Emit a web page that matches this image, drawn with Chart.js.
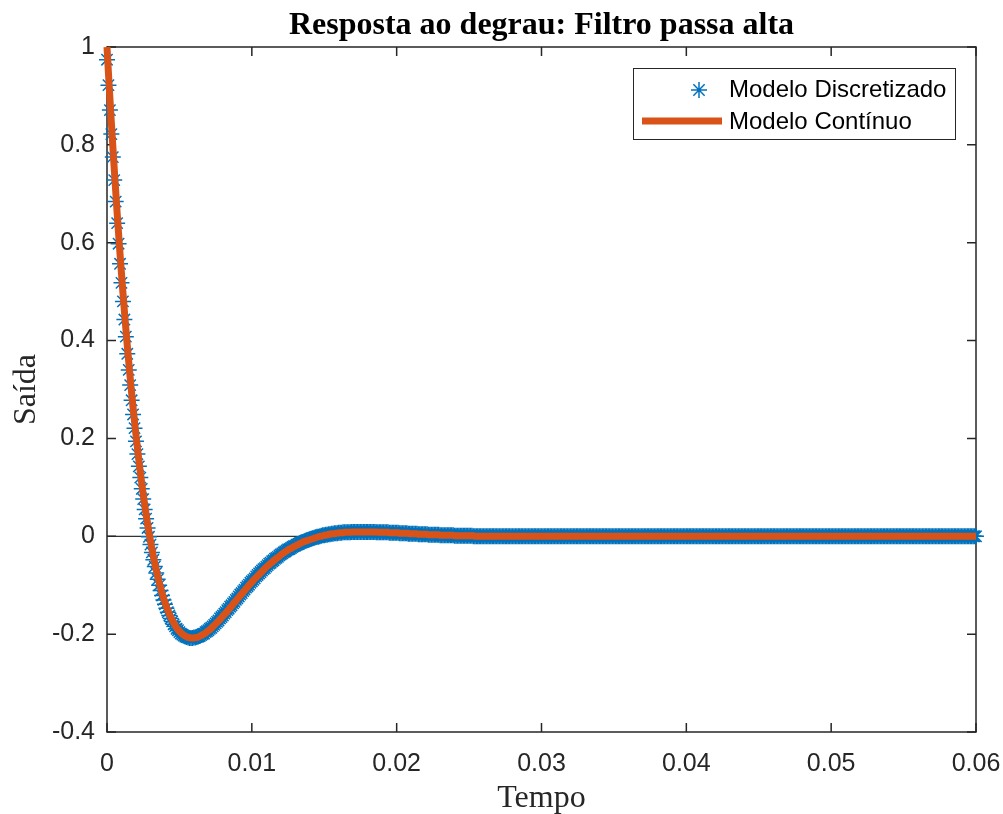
<!DOCTYPE html>
<html>
<head>
<meta charset="utf-8">
<script src="https://cdn.jsdelivr.net/npm/chart.js@4.4.1/dist/chart.umd.min.js"></script>
<style>
  html, body { margin: 0; padding: 0; background: #ffffff; }
  canvas { display: block; }
</style>
</head>
<body>
<canvas id="grafico" width="1003" height="814"></canvas>
<script>
// Step response of a 2nd-order high-pass filter: continuous model vs. Tustin-discretized model
const tituloGrafico = 'Resposta ao degrau: Filtro passa alta';
const rotuloX = 'Tempo';
const rotuloY = 'Saída';
const nomesSeries = ['Modelo Discretizado', 'Modelo Contínuo'];

// sample period of both series (s)
const periodoAmostragem = 1e-4;

const xTicks = [0, 0.01, 0.02, 0.03, 0.04, 0.05, 0.06];
const xTickLabels = ['0', '0.01', '0.02', '0.03', '0.04', '0.05', '0.06'];
const yTicks = [-0.4, -0.2, 0, 0.2, 0.4, 0.6, 0.8, 1];
const yTickLabels = ['-0.4', '-0.2', '0', '0.2', '0.4', '0.6', '0.8', '1'];

// discretized model output, one value per sample (k = 0 .. 600)
const yDiscreto = [
  0.974, 0.922, 0.871, 0.822, 0.775, 0.728, 0.684, 0.640, 0.598, 0.557,
  0.518, 0.480, 0.443, 0.408, 0.373, 0.340, 0.309, 0.278, 0.249, 0.221,
  0.194, 0.168, 0.143, 0.120, 0.097, 0.076, 0.055, 0.036, 0.017, -0.001,
  -0.017, -0.033, -0.048, -0.062, -0.075, -0.088, -0.100, -0.111, -0.121, -0.130,
  -0.139, -0.147, -0.155, -0.162, -0.168, -0.174, -0.180, -0.184, -0.189, -0.192,
  -0.196, -0.199, -0.201, -0.203, -0.205, -0.206, -0.207, -0.208, -0.208, -0.208,
  -0.207, -0.207, -0.206, -0.205, -0.204, -0.202, -0.200, -0.199, -0.196, -0.194,
  -0.192, -0.189, -0.187, -0.184, -0.181, -0.178, -0.175, -0.172, -0.168, -0.165,
  -0.162, -0.158, -0.155, -0.151, -0.148, -0.144, -0.141, -0.137, -0.134, -0.130,
  -0.127, -0.123, -0.119, -0.116, -0.112, -0.109, -0.105, -0.102, -0.099, -0.095,
  -0.092, -0.089, -0.086, -0.082, -0.079, -0.076, -0.073, -0.070, -0.067, -0.065,
  -0.062, -0.059, -0.056, -0.054, -0.051, -0.049, -0.046, -0.044, -0.042, -0.039,
  -0.037, -0.035, -0.033, -0.031, -0.029, -0.027, -0.026, -0.024, -0.022, -0.020,
  -0.019, -0.017, -0.016, -0.014, -0.013, -0.012, -0.011, -0.009, -0.008, -0.007,
  -0.006, -0.005, -0.004, -0.003, -0.002, -0.001, -0.001, 0, 0.001, 0.002,
  0.002, 0.003, 0.003, 0.004, 0.004, 0.005, 0.005, 0.006, 0.006, 0.006,
  0.007, 0.007, 0.007, 0.008, 0.008, 0.008, 0.008, 0.008, 0.008, 0.009,
  0.009, 0.009, 0.009, 0.009, 0.009, 0.009, 0.009, 0.009, 0.009, 0.009,
  0.009, 0.009, 0.009, 0.009, 0.009, 0.009, 0.008, 0.008, 0.008, 0.008,
  0.008, 0.008, 0.008, 0.008, 0.008, 0.007, 0.007, 0.007, 0.007, 0.007,
  0.007, 0.007, 0.006, 0.006, 0.006, 0.006, 0.006, 0.006, 0.005, 0.005,
  0.005, 0.005, 0.005, 0.005, 0.005, 0.004, 0.004, 0.004, 0.004, 0.004,
  0.004, 0.004, 0.003, 0.003, 0.003, 0.003, 0.003, 0.003, 0.003, 0.003,
  0.002, 0.002, 0.002, 0.002, 0.002, 0.002, 0.002, 0.002, 0.002, 0.002,
  0.001, 0.001, 0.001, 0.001, 0.001, 0.001, 0.001, 0.001, 0.001, 0.001,
  0.001, 0.001, 0.001, 0, 0, 0, 0, 0, 0, 0,
  0,0,0,0,0,0,0,0,0,0, 0,0,0,0,0,0,0,0,0,0,
  0,0,0,0,0,0,0,0,0,0, 0,0,0,0,0,0,0,0,0,0,
  0,0,0,0,0,0,0,0,0,0, 0,0,0,0,0,0,0,0,0,0,
  0,0,0,0,0,0,0,0,0,0, 0,0,0,0,0,0,0,0,0,0,
  0,0,0,0,0,0,0,0,0,0, 0,0,0,0,0,0,0,0,0,0,
  0,0,0,0,0,0,0,0,0,0, 0,0,0,0,0,0,0,0,0,0,
  0,0,0,0,0,0,0,0,0,0, 0,0,0,0,0,0,0,0,0,0,
  0,0,0,0,0,0,0,0,0,0, 0,0,0,0,0,0,0,0,0,0,
  0,0,0,0,0,0,0,0,0,0, 0,0,0,0,0,0,0,0,0,0,
  0,0,0,0,0,0,0,0,0,0, 0,0,0,0,0,0,0,0,0,0,
  0,0,0,0,0,0,0,0,0,0, 0,0,0,0,0,0,0,0,0,0,
  0,0,0,0,0,0,0,0,0,0, 0,0,0,0,0,0,0,0,0,0,
  0,0,0,0,0,0,0,0,0,0, 0,0,0,0,0,0,0,0,0,0,
  0,0,0,0,0,0,0,0,0,0, 0,0,0,0,0,0,0,0,0,0,
  0,0,0,0,0,0,0,0,0,0, 0,0,0,0,0,0,0,0,0,0,
  0,0,0,0,0,0,0,0,0,0, 0,0,0,0,0,0,0,0,0,0,
  0,0,0,0,0,0,0,0,0,0, 0,0,0,0,0,0,0,0,0,0,
  0
];

// continuous model output on the same time grid (k = 0 .. 600)
const yContinuo = [
  1.000, 0.947, 0.896, 0.846, 0.798, 0.751, 0.706, 0.661, 0.619, 0.577,
  0.537, 0.498, 0.461, 0.425, 0.390, 0.357, 0.324, 0.293, 0.263, 0.235,
  0.207, 0.181, 0.155, 0.131, 0.108, 0.086, 0.065, 0.045, 0.026, 0.008,
  -0.009, -0.025, -0.041, -0.055, -0.069, -0.082, -0.094, -0.105, -0.116, -0.126,
  -0.135, -0.144, -0.151, -0.159, -0.165, -0.171, -0.177, -0.182, -0.187, -0.191,
  -0.194, -0.197, -0.200, -0.202, -0.204, -0.205, -0.207, -0.207, -0.208, -0.208,
  -0.208, -0.207, -0.207, -0.206, -0.204, -0.203, -0.201, -0.200, -0.198, -0.195,
  -0.193, -0.191, -0.188, -0.185, -0.182, -0.179, -0.176, -0.173, -0.170, -0.167,
  -0.163, -0.160, -0.157, -0.153, -0.150, -0.146, -0.143, -0.139, -0.135, -0.132,
  -0.128, -0.125, -0.121, -0.118, -0.114, -0.111, -0.107, -0.104, -0.100, -0.097,
  -0.094, -0.090, -0.087, -0.084, -0.081, -0.078, -0.075, -0.072, -0.069, -0.066,
  -0.063, -0.060, -0.058, -0.055, -0.053, -0.050, -0.048, -0.045, -0.043, -0.041,
  -0.038, -0.036, -0.034, -0.032, -0.030, -0.028, -0.026, -0.025, -0.023, -0.021,
  -0.020, -0.018, -0.017, -0.015, -0.014, -0.012, -0.011, -0.010, -0.009, -0.008,
  -0.007, -0.006, -0.005, -0.004, -0.003, -0.002, -0.001, 0, 0, 0.001,
  0.002, 0.002, 0.003, 0.004, 0.004, 0.005, 0.005, 0.005, 0.006, 0.006,
  0.007, 0.007, 0.007, 0.007, 0.008, 0.008, 0.008, 0.008, 0.008, 0.009,
  0.009, 0.009, 0.009, 0.009, 0.009, 0.009, 0.009, 0.009, 0.009, 0.009,
  0.009, 0.009, 0.009, 0.009, 0.009, 0.009, 0.009, 0.008, 0.008, 0.008,
  0.008, 0.008, 0.008, 0.008, 0.008, 0.007, 0.007, 0.007, 0.007, 0.007,
  0.007, 0.007, 0.006, 0.006, 0.006, 0.006, 0.006, 0.006, 0.006, 0.005,
  0.005, 0.005, 0.005, 0.005, 0.005, 0.004, 0.004, 0.004, 0.004, 0.004,
  0.004, 0.004, 0.003, 0.003, 0.003, 0.003, 0.003, 0.003, 0.003, 0.003,
  0.002, 0.002, 0.002, 0.002, 0.002, 0.002, 0.002, 0.002, 0.002, 0.002,
  0.001, 0.001, 0.001, 0.001, 0.001, 0.001, 0.001, 0.001, 0.001, 0.001,
  0.001, 0.001, 0.001, 0.001, 0, 0, 0, 0, 0, 0,
  0,0,0,0,0,0,0,0,0,0, 0,0,0,0,0,0,0,0,0,0,
  0,0,0,0,0,0,0,0,0,0, 0,0,0,0,0,0,0,0,0,0,
  0,0,0,0,0,0,0,0,0,0, 0,0,0,0,0,0,0,0,0,0,
  0,0,0,0,0,0,0,0,0,0, 0,0,0,0,0,0,0,0,0,0,
  0,0,0,0,0,0,0,0,0,0, 0,0,0,0,0,0,0,0,0,0,
  0,0,0,0,0,0,0,0,0,0, 0,0,0,0,0,0,0,0,0,0,
  0,0,0,0,0,0,0,0,0,0, 0,0,0,0,0,0,0,0,0,0,
  0,0,0,0,0,0,0,0,0,0, 0,0,0,0,0,0,0,0,0,0,
  0,0,0,0,0,0,0,0,0,0, 0,0,0,0,0,0,0,0,0,0,
  0,0,0,0,0,0,0,0,0,0, 0,0,0,0,0,0,0,0,0,0,
  0,0,0,0,0,0,0,0,0,0, 0,0,0,0,0,0,0,0,0,0,
  0,0,0,0,0,0,0,0,0,0, 0,0,0,0,0,0,0,0,0,0,
  0,0,0,0,0,0,0,0,0,0, 0,0,0,0,0,0,0,0,0,0,
  0,0,0,0,0,0,0,0,0,0, 0,0,0,0,0,0,0,0,0,0,
  0,0,0,0,0,0,0,0,0,0, 0,0,0,0,0,0,0,0,0,0,
  0,0,0,0,0,0,0,0,0,0, 0,0,0,0,0,0,0,0,0,0,
  0,0,0,0,0,0,0,0,0,0, 0,0,0,0,0,0,0,0,0,0,
  0
];

const corDiscreto = '#0072BD';
const corContinuo = '#D95319';
const corEixos = '#262626';

const pontos = serie => serie.map((v, k) => ({ x: k * periodoAmostragem, y: v }));

function desenhaAsterisco(ctx, x, y, r) {
  ctx.beginPath();
  for (let i = 0; i < 4; i++) {
    const a = i * Math.PI / 4;
    ctx.moveTo(x - r * Math.cos(a), y - r * Math.sin(a));
    ctx.lineTo(x + r * Math.cos(a), y + r * Math.sin(a));
  }
  ctx.stroke();
}

// axes box, inward ticks, zero line, titles and legend
const moldura = {
  id: 'moldura',
  beforeDatasetsDraw(chart) {
    const { ctx, chartArea: a, scales } = chart;
    const y0 = scales.y.getPixelForValue(0);
    ctx.save();
    ctx.strokeStyle = '#333333';
    ctx.lineWidth = 1.3;
    ctx.beginPath();
    ctx.moveTo(a.left, y0);
    ctx.lineTo(a.right, y0);
    ctx.stroke();

    ctx.strokeStyle = corEixos;
    ctx.lineWidth = 1.5;
    ctx.strokeRect(a.left, a.top, a.right - a.left, a.bottom - a.top);
    const tl = 9;
    ctx.beginPath();
    xTicks.forEach(v => {
      const px = scales.x.getPixelForValue(v);
      ctx.moveTo(px, a.bottom); ctx.lineTo(px, a.bottom - tl);
      ctx.moveTo(px, a.top); ctx.lineTo(px, a.top + tl);
    });
    yTicks.forEach(v => {
      const py = scales.y.getPixelForValue(v);
      ctx.moveTo(a.left, py); ctx.lineTo(a.left + tl, py);
      ctx.moveTo(a.right, py); ctx.lineTo(a.right - tl, py);
    });
    ctx.stroke();
    ctx.restore();
  },
  afterDatasetsDraw(chart) {
    const { ctx, chartArea: a } = chart;
    const cx = (a.left + a.right) / 2;
    const cy = (a.top + a.bottom) / 2;
    ctx.save();
    ctx.fillStyle = '#000000';
    ctx.textAlign = 'center';
    ctx.textBaseline = 'alphabetic';
    ctx.font = 'bold 32px "Liberation Serif"';
    ctx.fillText(tituloGrafico, cx, 34);

    ctx.fillStyle = corEixos;
    ctx.font = '32px "Liberation Serif"';
    ctx.fillText(rotuloX, cx, 807);
    ctx.save();
    ctx.translate(35, cy);
    ctx.rotate(-Math.PI / 2);
    ctx.fillText(rotuloY, 0, 0);
    ctx.restore();

    // legend
    const lx = 633, ly = 68, lw = 322, lh = 71;
    ctx.fillStyle = '#ffffff';
    ctx.fillRect(lx, ly, lw, lh);
    ctx.strokeStyle = corEixos;
    ctx.lineWidth = 1;
    ctx.strokeRect(lx + 0.5, ly + 0.5, lw, lh);

    ctx.strokeStyle = corDiscreto;
    ctx.lineWidth = 1.5;
    desenhaAsterisco(ctx, 699, 90, 8);

    ctx.strokeStyle = corContinuo;
    ctx.lineWidth = 7;
    ctx.beginPath();
    ctx.moveTo(642, 121);
    ctx.lineTo(722, 121);
    ctx.stroke();

    ctx.fillStyle = '#000000';
    ctx.textAlign = 'left';
    ctx.textBaseline = 'middle';
    ctx.font = '24px "Liberation Sans"';
    ctx.fillText(nomesSeries[0], 729, 90);
    ctx.fillText(nomesSeries[1], 729, 122);
    ctx.restore();
  }
};

new Chart(document.getElementById('grafico').getContext('2d'), {
  type: 'line',
  data: {
    datasets: [
      {
        label: nomesSeries[1],
        data: pontos(yContinuo),
        borderColor: corContinuo,
        borderWidth: 7,
        pointRadius: 0,
        tension: 0,
        fill: false,
        clip: false,
        order: 0
      },
      {
        label: nomesSeries[0],
        data: pontos(yDiscreto),
        showLine: false,
        pointStyle: 'star',
        pointRadius: 8,
        pointBorderWidth: 1.5,
        pointBorderColor: corDiscreto,
        pointBackgroundColor: corDiscreto,
        clip: false,
        order: 1
      }
    ]
  },
  options: {
    responsive: false,
    animation: false,
    devicePixelRatio: 1,
    layout: { padding: { left: 0, top: 47, right: 27, bottom: 0 } },
    plugins: {
      legend: { display: false },
      tooltip: { enabled: false },
      title: { display: false }
    },
    scales: {
      x: {
        type: 'linear',
        min: 0,
        max: 0.06,
        afterFit(s) { s.height = 82; s.paddingLeft = 0; s.paddingRight = 0; },
        afterBuildTicks(s) { s.ticks = xTicks.map(v => ({ value: v })); },
        ticks: {
          callback: (v, i) => xTickLabels[i],
          font: { family: 'Liberation Sans', size: 25 },
          color: corEixos,
          padding: 9,
          maxRotation: 0,
          autoSkip: false
        },
        grid: { display: false },
        border: { display: false }
      },
      y: {
        type: 'linear',
        min: -0.4,
        max: 1,
        afterFit(s) { s.width = 107; s.paddingTop = 0; s.paddingBottom = 0; },
        afterBuildTicks(s) { s.ticks = yTicks.map(v => ({ value: v })); },
        ticks: {
          callback: (v, i) => yTickLabels[i],
          font: { family: 'Liberation Sans', size: 25 },
          color: corEixos,
          padding: 4,
          autoSkip: false
        },
        grid: { display: false },
        border: { display: false }
      }
    }
  },
  plugins: [moldura]
});
</script>
</body>
</html>
